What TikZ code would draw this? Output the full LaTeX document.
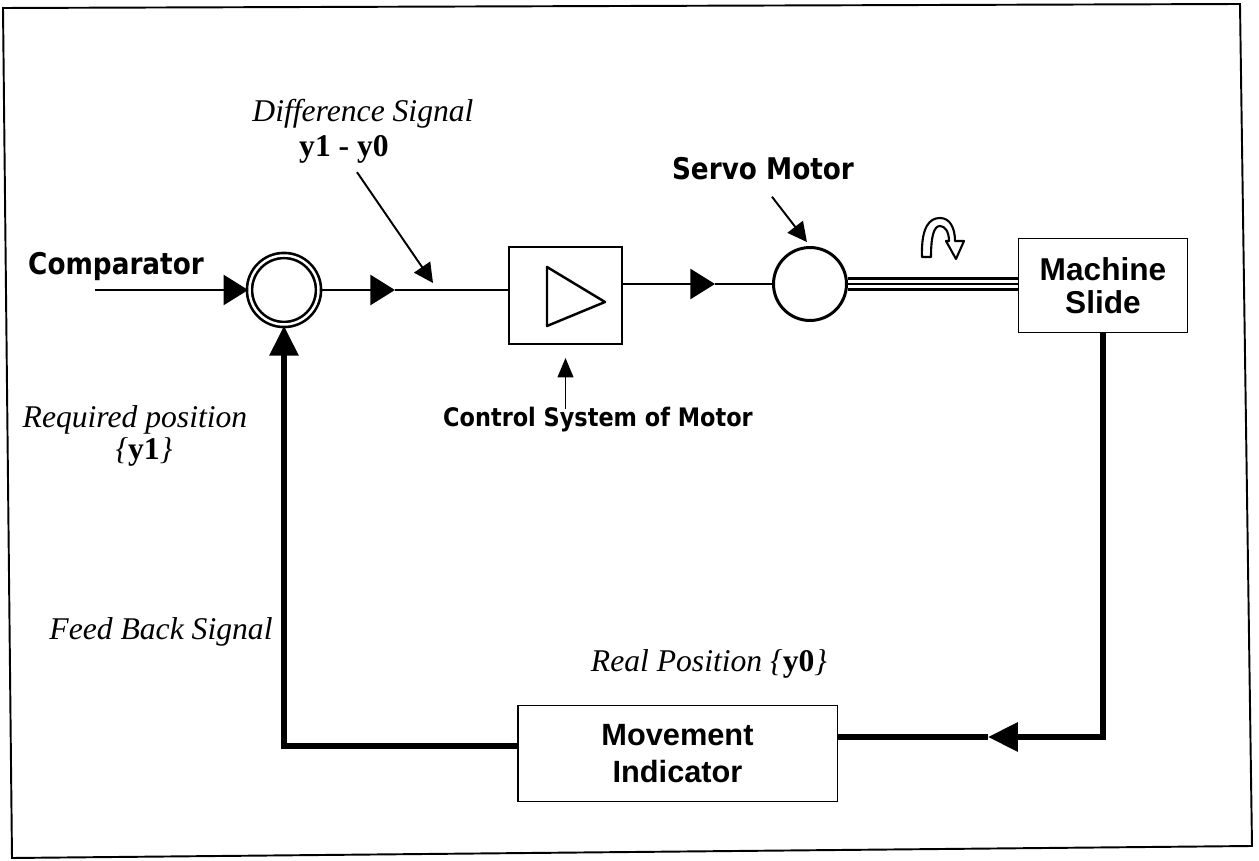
\documentclass[tikz,border=0pt]{standalone}
\usepackage{fontspec}
\setmainfont{Liberation Serif}
\newfontfamily\tahoma{DejaVu Sans}[FakeStretch=0.88]
\newfontfamily\arial{Liberation Sans}
\usetikzlibrary{arrows.meta,positioning,calc}
\tikzset{
  sumj/.style={circle, draw, double, line width=1.5pt, double distance=1.4pt, inner sep=0pt, minimum size=1.38cm},
  motc/.style={circle, draw, line width=1.7pt, inner sep=0pt, minimum size=1.46cm},
  blk/.style={draw, rectangle, line width=1.1pt, inner sep=0pt, align=center,
    font=\arial\bfseries\fontsize{18}{18.5}\selectfont},
  sig/.style={line width=1.7pt, -{Triangle[length=14pt, width=17pt]}},
  fbk/.style={line width=3.2pt, -{Triangle[length=17pt, width=16pt]}},
  ptr/.style={line width=1.1pt, -{Triangle[length=11pt, width=11pt]}},
  lbl/.style={font=\tahoma\bfseries\fontsize{17}{20}\selectfont, anchor=base, inner sep=0pt},
  itl/.style={font=\itshape\fontsize{18}{20}\selectfont, anchor=base, inner sep=0pt},
}
\begin{document}
\begin{tikzpicture}[x=0.02cm, y=-0.02cm]
  \useasboundingbox (0,0) rectangle (1259,861);
  % frame
  \draw[line width=1.1pt] (3,8) -- (1240,4) -- (1252,846) -- (12,858) -- cycle;
  % blocks
  \node[sumj] (cmp) at (284,290) {};
  \node[blk, line width=1.4pt, minimum width=2.25cm, minimum height=1.93cm] (amp) at (565.5,295.5) {};
  \draw[line width=1.4pt, line join=round] ($(amp)+(-18.5,-28.5)$) -- ($(amp)+(-18.5,30.5)$) -- ($(amp)+(39.5,6.5)$) -- cycle;
  \node[motc] (motor) at (810,284) {};
  \node[blk, minimum width=3.38cm, minimum height=1.88cm] (slide) at (1103,285.5) {Machine\\Slide};
  \node[blk, font=\arial\bfseries\fontsize{17.5}{21.5}\selectfont, minimum width=6.4cm, minimum height=1.92cm] (ind) at (677.5,753.5) {Movement\\Indicator};
  % labels
  \node[lbl] (cmpl) at (116,275) {Comparator};
  \node[lbl] (srv) at (763,180) {Servo Motor};
  \node[lbl, font=\tahoma\bfseries\fontsize{14.5}{17}\selectfont] (ctl) at (598,427) {Control System of Motor};
  \node[itl] (dsig) at (363,122) {Difference Signal};
  \node[itl, font=\bfseries\fontsize{18}{20}\selectfont] (dval) at (344,157) {y1 - y0};
  \node[itl] (req) at (135,428) {Required position};
  \node[itl] (reqv) at (144,460) {\{\textbf{\upshape y1}\}};
  \node[itl] (fbs) at (161,640) {Feed Back Signal};
  \node[itl] (real) at (709,672) {Real Position \{\textbf{\upshape y0}\}};
  % signal path
  \coordinate (cin) at (95,290);
  \coordinate (a1) at (395,290);
  \coordinate (a2) at (715,284);
  \coordinate (dtip) at (433,283);
  \draw[sig] (cin) -- (cmp.west);
  \draw[sig] (cmp.east) -- (a1);
  \draw[line width=1.7pt] (a1) -- (a1 -| amp.west);
  \draw[sig] (amp.east |- a2) -- (a2);
  \draw[line width=1.7pt] (a2) -- (motor.west);
  % shaft
  \draw[double, line width=1.7pt, double distance=5.1pt] (motor.east) -- (motor.east -| slide.west);
  \draw[line width=1.6pt] (motor.east) -- (motor.east -| slide.west);
  \draw[line width=1.2pt, fill=white, line join=round] (922,257) .. controls (921,226) and (930,218) .. (940,218)
    .. controls (950,218) and (955,228) .. (955,241) -- (964,241) -- (956,259) -- (946,241) -- (949,241)
    .. controls (949,232) and (945,226) .. (940,226) .. controls (934,226) and (931,236) .. (931,257) -- cycle;
  % pointers
  \draw[ptr] ($(dval.south)+(13,8)$) -- (dtip);
  \draw[ptr, shorten >=0.1cm] ($(srv.south)+(9,16)$) -- (motor.north);
  \draw[line width=0.8pt, -{Triangle[length=11pt, width=9pt]}, shorten >=0.26cm] ([yshift=-1pt]ctl.north -| amp.south) -- (amp.south);
  % feedback loop
  \coordinate (fb) at (284,746);
  \coordinate (a3) at (988,737);
  \draw[fbk] (slide.south) |- (a3);
  \draw[line width=3.2pt] (a3) -- (a3 -| ind.east);
  \draw[fbk] (ind.west |- fb) -| (cmp.south);
\end{tikzpicture}
\end{document}
